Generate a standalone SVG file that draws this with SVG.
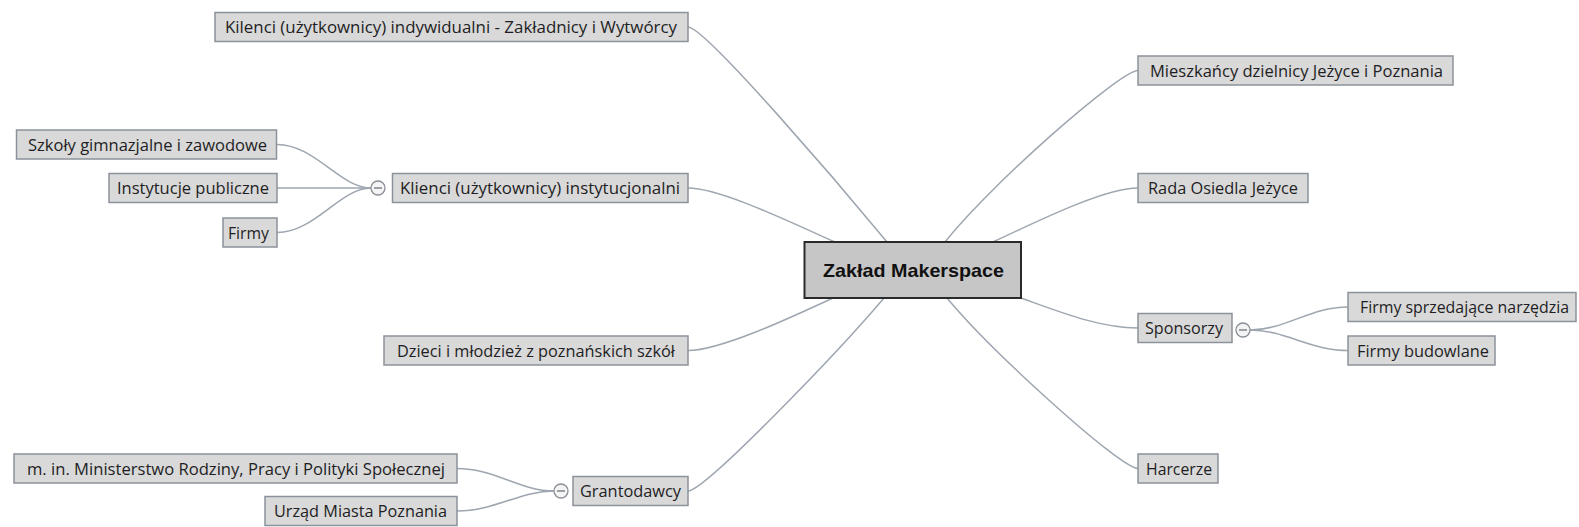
<svg xmlns="http://www.w3.org/2000/svg" width="1579" height="527" viewBox="0 0 1579 527">
<style>
.bg{fill:#ffffff}
.node rect{fill:#d9d9d9;stroke:#8b929b;stroke-width:1.5}
.node text{font-family:"Open Sans","Noto Sans","Liberation Sans",sans-serif;font-size:16px;fill:#1e1e24}
#n-center rect{fill:#c6c6c6;stroke:#2a2a2a;stroke-width:2}
#n-center text{font-family:"Liberation Sans",Arial,sans-serif;font-weight:bold;font-size:18.5px;fill:#111}
.links path{fill:none;stroke:#9ea6b0;stroke-width:1.5}
.toggle circle{fill:#f4f4f4;stroke:#8a8f96;stroke-width:1.3}
.toggle line{stroke:#6f747a;stroke-width:1.3}
</style>
<rect class="bg" x="0" y="0" width="1579" height="527"/>
<g class="links" id="connectors">
<path d="M688 27 C705 27 840 185 887 242"/>
<path d="M688 188 C720 188 790 222 835 242"/>
<path d="M688 350.5 C720 350.5 790 318 833 298"/>
<path d="M688 491 C705 491 840 350 884 298"/>
<path d="M1138 70.5 C1120 70.5 990 185 945 242"/>
<path d="M1138 188 C1105 188 1040 220 993 242"/>
<path d="M1021 298 C1060 312 1100 328 1138 328"/>
<path d="M1138 468.5 C1120 468.5 990 350 947 298"/>
<path d="M277 144.5 C315 144.5 340 188 371 188"/>
<path d="M277 188 L371 188"/>
<path d="M277 232.5 C315 232.5 340 188 371 188"/>
<path d="M457 468.5 C495 468.5 520 491 554 491"/>
<path d="M457 511 C495 511 520 491 554 491"/>
<path d="M1250 330 C1285 330 1310 307 1348 307"/>
<path d="M1250 330 C1285 330 1310 350.5 1348 350.5"/>
</g>
<g class="toggle" id="toggle-klienci"><circle cx="378" cy="188" r="7"/><line x1="374" y1="188" x2="382" y2="188"/></g>
<g class="toggle" id="toggle-grantodawcy"><circle cx="561" cy="491" r="7"/><line x1="557" y1="491" x2="565" y2="491"/></g>
<g class="toggle" id="toggle-sponsorzy"><circle cx="1243" cy="330" r="7"/><line x1="1239" y1="330" x2="1247" y2="330"/></g>

<g class="node" id="n-center"><rect x="804.5" y="242" width="216.5" height="56"/><text x="823" y="277" textLength="181" lengthAdjust="spacingAndGlyphs">Zakład Makerspace</text></g>
<g class="node" id="n-indywidualni"><rect x="215" y="12.5" width="473" height="29"/><text x="225" y="33" textLength="452" lengthAdjust="spacingAndGlyphs">Kilenci (użytkownicy) indywidualni - Zakładnicy i Wytwórcy</text></g>
<g class="node" id="n-instytucjonalni"><rect x="392.5" y="173.5" width="295.5" height="29"/><text x="400" y="194" textLength="280" lengthAdjust="spacingAndGlyphs">Klienci (użytkownicy) instytucjonalni</text></g>
<g class="node" id="n-szkoly"><rect x="16.5" y="130" width="260" height="29"/><text x="28" y="150.5" textLength="239" lengthAdjust="spacingAndGlyphs">Szkoły gimnazjalne i zawodowe</text></g>
<g class="node" id="n-instytucje"><rect x="109" y="173.5" width="168" height="29"/><text x="117" y="194" textLength="152" lengthAdjust="spacingAndGlyphs">Instytucje publiczne</text></g>
<g class="node" id="n-firmy"><rect x="223" y="218" width="54" height="29"/><text x="228" y="238.5" textLength="41" lengthAdjust="spacingAndGlyphs">Firmy</text></g>
<g class="node" id="n-dzieci"><rect x="384" y="336" width="304" height="29"/><text x="397" y="356.5" textLength="278" lengthAdjust="spacingAndGlyphs">Dzieci i młodzież z poznańskich szkół</text></g>
<g class="node" id="n-grantodawcy"><rect x="573" y="476.5" width="115" height="29"/><text x="580" y="497" textLength="101" lengthAdjust="spacingAndGlyphs">Grantodawcy</text></g>
<g class="node" id="n-ministerstwo"><rect x="14" y="454" width="443" height="29"/><text x="27" y="474.5" textLength="418" lengthAdjust="spacingAndGlyphs">m. in. Ministerstwo Rodziny, Pracy i Polityki Społecznej</text></g>
<g class="node" id="n-urzad"><rect x="265" y="496.5" width="192" height="29"/><text x="274" y="517" textLength="173" lengthAdjust="spacingAndGlyphs">Urząd Miasta Poznania</text></g>
<g class="node" id="n-mieszkancy"><rect x="1138" y="56" width="315" height="29"/><text x="1150" y="76.5" textLength="293" lengthAdjust="spacingAndGlyphs">Mieszkańcy dzielnicy Jeżyce i Poznania</text></g>
<g class="node" id="n-rada"><rect x="1138" y="173.5" width="170" height="29"/><text x="1148" y="194" textLength="150" lengthAdjust="spacingAndGlyphs">Rada Osiedla Jeżyce</text></g>
<g class="node" id="n-sponsorzy"><rect x="1138" y="313.5" width="94" height="29"/><text x="1145" y="334" textLength="78" lengthAdjust="spacingAndGlyphs">Sponsorzy</text></g>
<g class="node" id="n-narzedzia"><rect x="1348" y="292.5" width="228" height="29"/><text x="1360" y="313" textLength="209" lengthAdjust="spacingAndGlyphs">Firmy sprzedające narzędzia</text></g>
<g class="node" id="n-budowlane"><rect x="1348" y="336" width="147" height="29"/><text x="1357" y="356.5" textLength="132" lengthAdjust="spacingAndGlyphs">Firmy budowlane</text></g>
<g class="node" id="n-harcerze"><rect x="1138" y="454" width="80" height="29"/><text x="1146" y="474.5" textLength="66" lengthAdjust="spacingAndGlyphs">Harcerze</text></g>
</svg>
